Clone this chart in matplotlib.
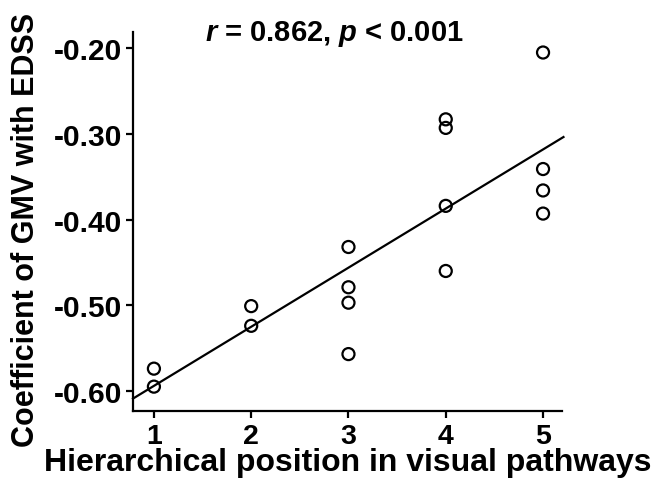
import numpy as np
import matplotlib
matplotlib.use("Agg")
import matplotlib.pyplot as plt

plt.rcParams['font.family'] = ['Liberation Sans', 'DejaVu Sans']
plt.rcParams['mathtext.fontset'] = 'custom'
plt.rcParams['mathtext.it'] = 'Liberation Sans:italic:bold'
plt.rcParams['mathtext.rm'] = 'Liberation Sans:bold'
plt.rcParams['mathtext.bf'] = 'Liberation Sans:bold'

positions = [1, 1, 2, 2, 3, 3, 3, 3, 4, 4, 4, 4, 5, 5, 5, 5]
coefficients = [-0.574, -0.595, -0.501, -0.524, -0.432, -0.479, -0.497, -0.557,
                -0.283, -0.293, -0.384, -0.460, -0.205, -0.341, -0.366, -0.393]
x_ticks = [1, 2, 3, 4, 5]
y_ticks = [-0.60, -0.50, -0.40, -0.30, -0.20]

fig = plt.figure(figsize=(6.51, 4.81), dpi=100)
ax = fig.add_axes([0.2043, 0.1435, 0.659, 0.788])

xs = np.array(positions, dtype=float)
ys = np.array(coefficients)
slope, intercept = np.polyfit(xs, ys, 1)
xl = np.array([0.785, 5.21])
ax.plot(xl, slope * xl + intercept, color='black', lw=1.6, clip_on=False, zorder=2)

ax.scatter(xs, ys, s=75, facecolors='none', edgecolors='black', linewidths=1.6, zorder=3)

ax.set_xlim(0.785, 5.195)
ax.set_ylim(-0.6234, -0.181)
ax.set_xticks(x_ticks)
ax.set_xticklabels([str(t) for t in x_ticks])
ax.set_yticks(y_ticks)
ax.set_yticklabels([f"{t:.2f}" for t in y_ticks])

for s in ['top', 'right']:
    ax.spines[s].set_visible(False)
for s in ['left', 'bottom']:
    ax.spines[s].set_linewidth(1.6)
ax.tick_params(axis='y', direction='out', length=5, width=1.6, labelsize=21.5, pad=3)
ax.tick_params(axis='x', direction='out', length=5, width=1.6, labelsize=20.5, pad=3.5)
for lab in ax.get_xticklabels() + ax.get_yticklabels():
    lab.set_fontweight('bold')

ax.set_xlabel('Hierarchical position in visual pathways', fontsize=23, fontweight='bold')
ax.xaxis.set_label_coords(0.5, -0.095)
ax.set_ylabel('Coefficient of GMV with EDSS', fontsize=22, fontweight='bold')
ax.yaxis.set_label_coords(-0.215, 0.481)

ax.text(0.469, 0.997, r'$r$ = 0.862, $p$ < 0.001', transform=ax.transAxes,
        ha='center', va='center', fontsize=21, fontweight='bold')

fig.savefig('out.png', dpi=100)
